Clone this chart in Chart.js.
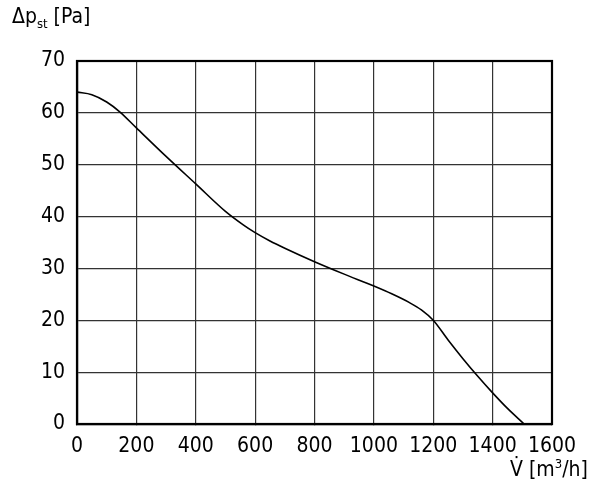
<!DOCTYPE html>
<html>
<head>
<meta charset="utf-8">
<script src="https://cdn.jsdelivr.net/npm/chart.js@4/dist/chart.umd.min.js"></script>
<style>
  html, body { margin: 0; padding: 0; background: #fff; }
  #wrap { position: relative; width: 600px; height: 499px; }
  .lbl { position: absolute; font-family: 'DejaVu Sans Condensed', sans-serif; font-size: 21px; color: #000; white-space: nowrap; }
  .lbl sub, .lbl sup { font-size: 13px; }
</style>
</head>
<body>
<div id="wrap">
  <canvas id="fanChart" width="600" height="499"></canvas>
  <div class="lbl" style="left:12px; top:4px;">Δp<sub>st</sub> [Pa]</div>
  <div class="lbl" style="left:510px; top:456px;">V̇ [m<sup>3</sup>/h]</div>
</div>
<script>
// Volumenstrom [m³/h] und statische Druckdifferenz [Pa]
const flowValues = [0, 50, 100, 144, 200, 300, 400, 500, 560, 600, 650, 700, 800, 900, 1000, 1060, 1120, 1160, 1200, 1250, 1300, 1350, 1400, 1450, 1506];
const pressureValues = [64.0, 63.5, 62.1, 60.2, 57.1, 51.6, 46.3, 41.0, 38.4, 36.9, 35.3, 33.9, 31.3, 28.9, 26.6, 25.1, 23.4, 22.0, 20.0, 16.2, 12.6, 9.2, 6.0, 3.0, 0];

const xTicks = [0, 200, 400, 600, 800, 1000, 1200, 1400, 1600];
const yTicks = [0, 10, 20, 30, 40, 50, 60, 70];

const tickFont = { family: "'DejaVu Sans Condensed', sans-serif", size: 21 };

const points = flowValues.map((x, i) => ({ x: x, y: pressureValues[i] }));

new Chart(document.getElementById('fanChart').getContext('2d'), {
    type: 'line',
    data: {
        datasets: [{
            data: points,
            borderColor: '#000',
            borderWidth: 1.6,
            pointRadius: 0,
            fill: false,
            cubicInterpolationMode: 'monotone'
        }]
    },
    options: {
        responsive: false,
        animation: false,
        layout: { padding: { left: 0, top: 61, right: 48, bottom: 0 } },
        plugins: { legend: { display: false }, tooltip: { enabled: false } },
        scales: {
            x: {
                type: 'linear',
                min: 0,
                max: 1600,
                afterBuildTicks: (scale) => { scale.ticks = xTicks.map(v => ({ value: v })); },
                afterFit: (scale) => { scale.height = 75; },
                grid: { color: '#333', lineWidth: 1.2, tickLength: 0 },
                border: { color: '#000', width: 2.2 },
                ticks: { color: '#000', font: tickFont, padding: 10, maxRotation: 0, callback: (v) => String(v) }
            },
            y: {
                type: 'linear',
                min: 0,
                max: 70,
                afterBuildTicks: (scale) => { scale.ticks = yTicks.map(v => ({ value: v })); },
                afterFit: (scale) => { scale.width = 77; },
                grid: { color: '#333', lineWidth: 1.2, tickLength: 0 },
                border: { color: '#000', width: 2.2 },
                ticks: { color: '#000', font: tickFont, padding: 12, callback: (v) => String(v) }
            }
        }
    },
    plugins: [{
        // Rahmen oben und rechts
        id: 'frame',
        afterDraw(chart) {
            const a = chart.chartArea;
            const ctx = chart.ctx;
            ctx.save();
            ctx.strokeStyle = '#000';
            ctx.lineWidth = 2.2;
            ctx.strokeRect(a.left, a.top, a.right - a.left, a.bottom - a.top);
            ctx.restore();
        }
    }]
});
</script>
</body>
</html>
